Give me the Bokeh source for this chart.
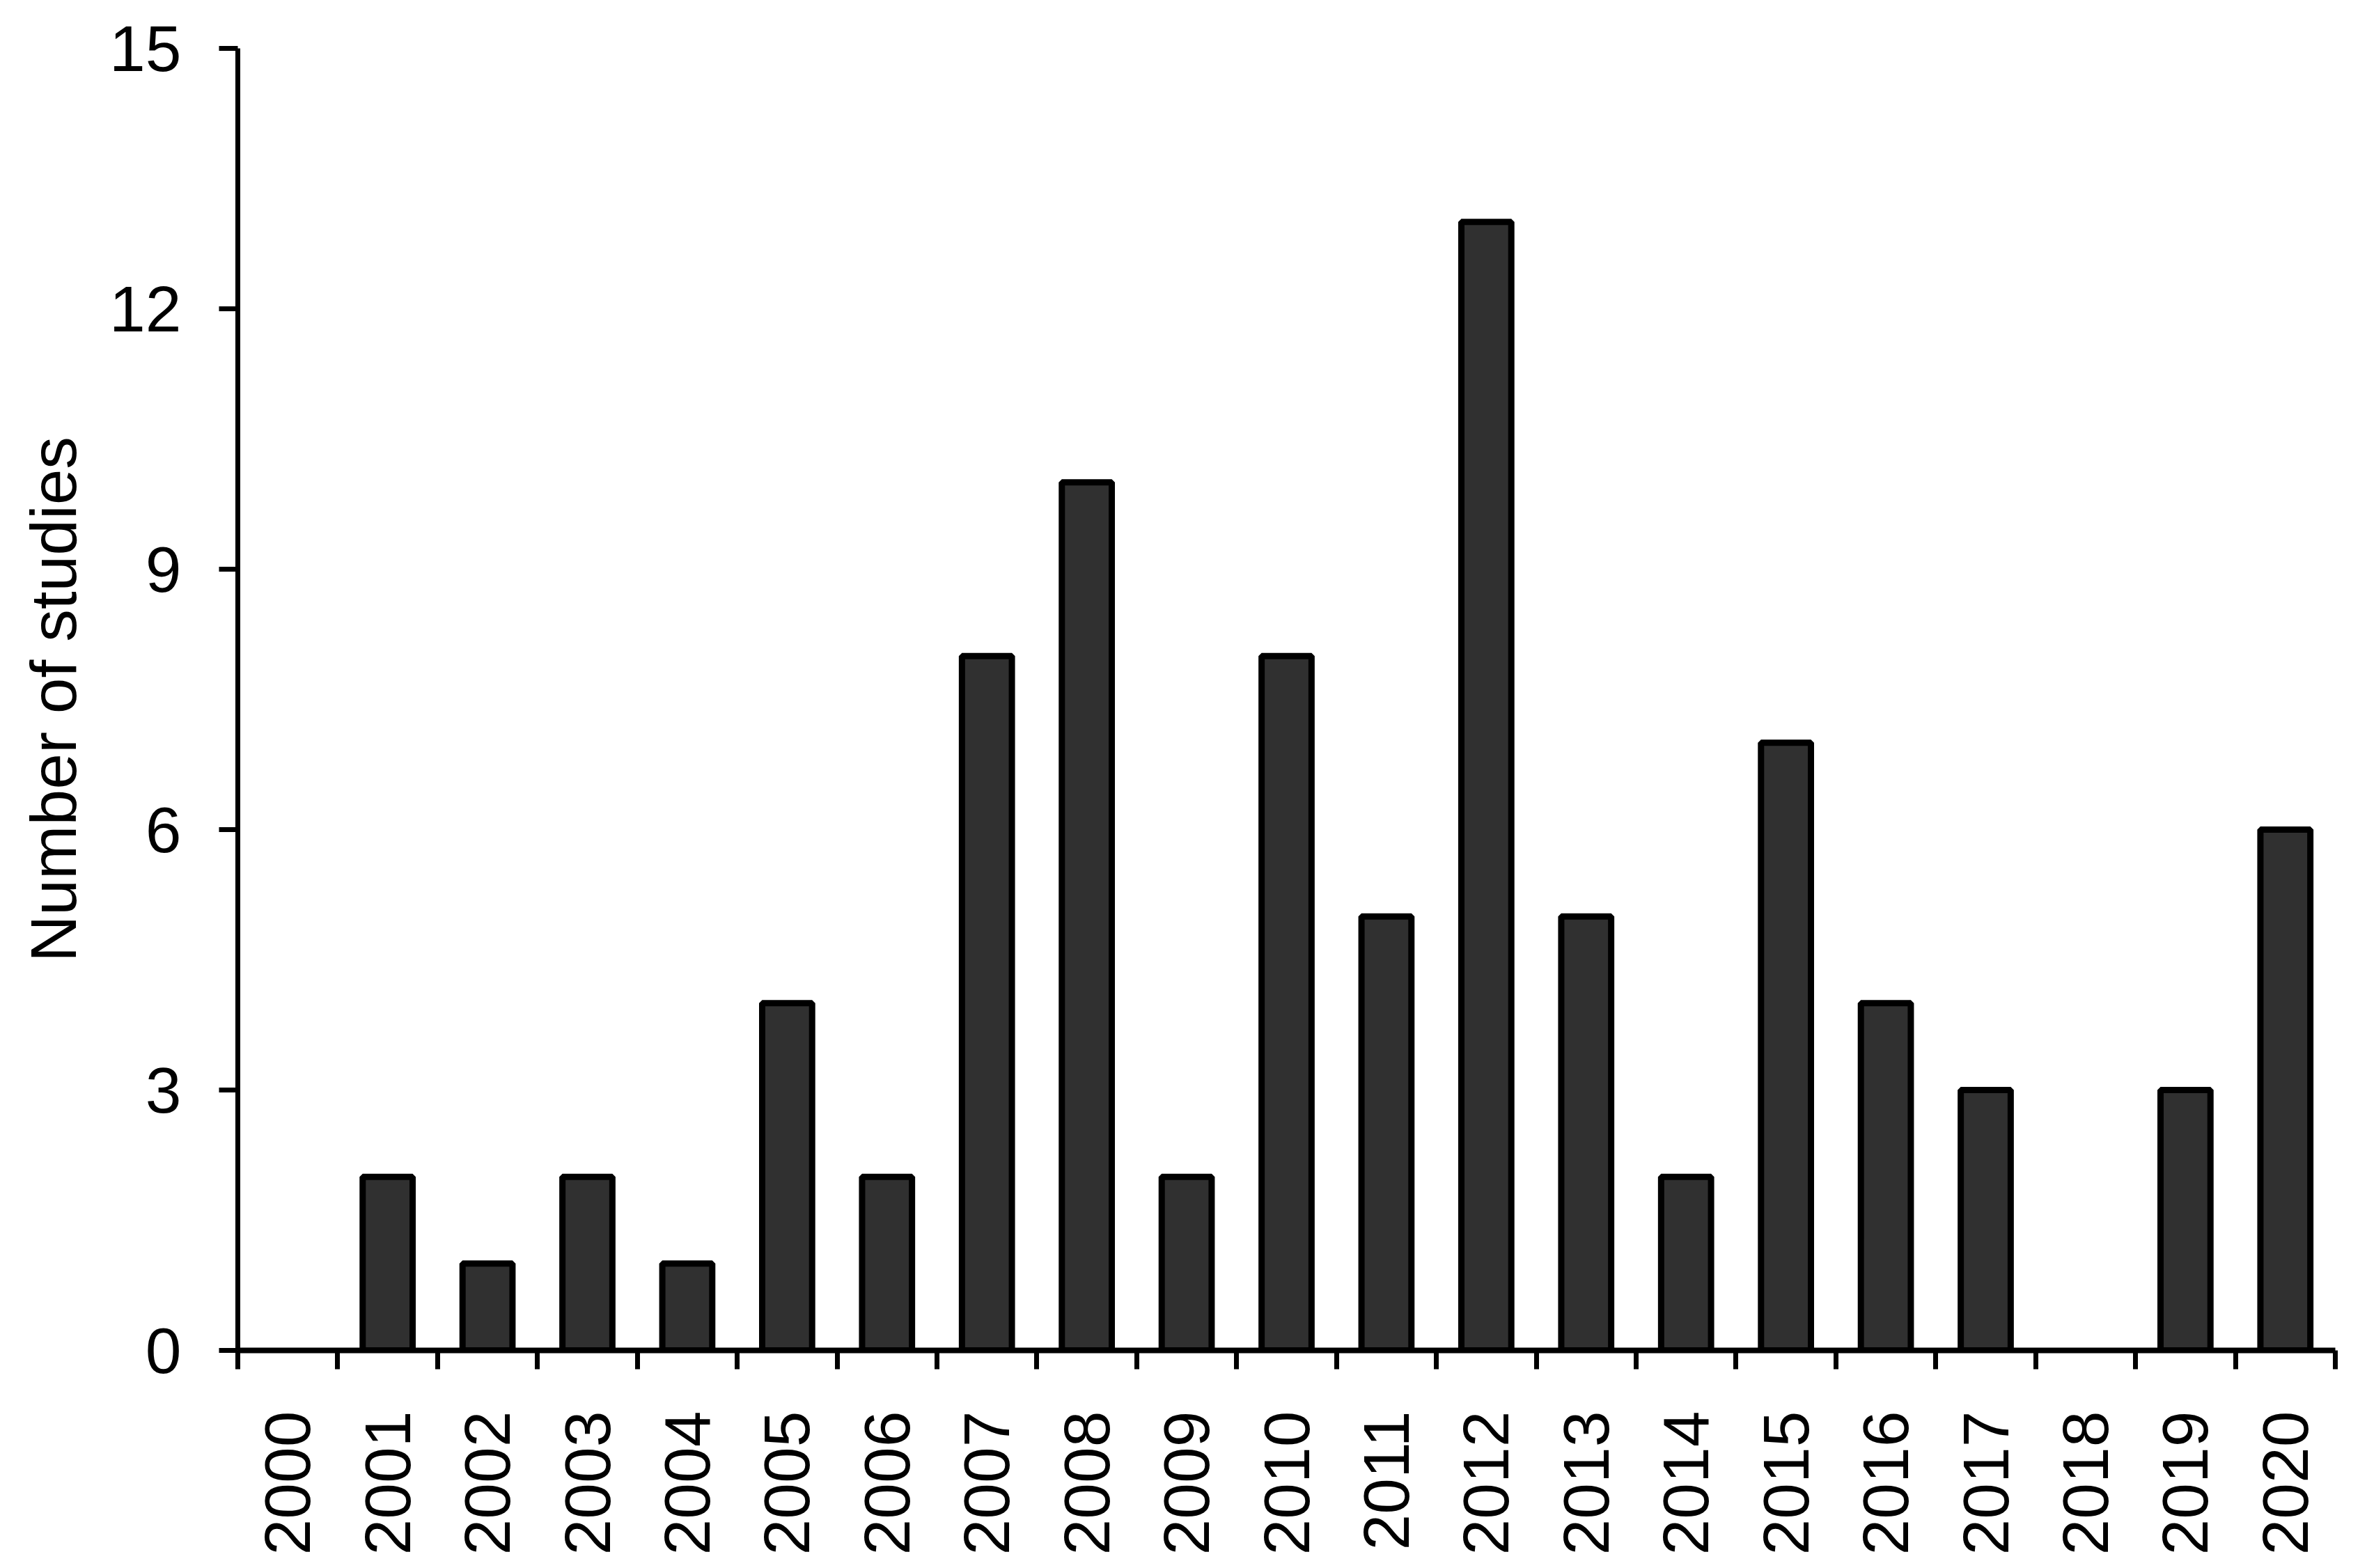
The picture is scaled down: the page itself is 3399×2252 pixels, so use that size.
import math
from bokeh.plotting import figure
from bokeh.models import (FixedTicker, Range1d, ColumnDataSource, CDSView,
                          BooleanFilter, CustomJSTickFormatter)
from bokeh.embed import file_html
from bokeh.resources import INLINE

# ---- data ----
years = [str(y) for y in range(2000, 2021)]
studies = [0, 2, 1, 2, 1, 4, 2, 8, 10, 2, 8, 5, 13, 5, 2, 7, 4, 3, 0, 3, 6]
y_ticks = [0, 3, 6, 9, 12, 15]
y_label = "Number of studies"

positions = [i + 0.5 for i in range(len(years))]
boundaries = list(range(len(years) + 1))

FONT = "Liberation Sans"
FSIZE = "93px"

p = figure(width=3383, height=2236, output_backend="svg", toolbar_location=None,
           x_range=Range1d(0, len(years)), y_range=Range1d(0, 15),
           min_border_left=341, min_border_right=30,
           min_border_top=69, min_border_bottom=287)
p.outline_line_color = None
p.grid.visible = False
p.background_fill_color = "white"
p.border_fill_color = "white"

src = ColumnDataSource(dict(x=positions, top=studies, year=years))
view = CDSView(filter=BooleanFilter([v > 0 for v in studies]))
p.vbar(x="x", top="top", bottom=0, width=0.5, source=src, view=view,
       fill_color="#303030", line_color="black", line_width=9)

# x axis: ticks at category boundaries (minor), labels at centres (major)
xa = p.xaxis[0]
xa.ticker = FixedTicker(ticks=positions, minor_ticks=boundaries)
xa.formatter = CustomJSTickFormatter(args=dict(labels=years),
                                     code="return labels[Math.floor(tick)];")
xa.major_tick_out = 0
xa.major_tick_in = 0
xa.minor_tick_out = 27
xa.minor_tick_in = 0
xa.minor_tick_line_width = 7
xa.minor_tick_line_color = "black"
xa.major_label_orientation = math.pi / 2
xa.major_label_standoff = 60
xa.axis_line_width = 8
xa.axis_line_color = "black"

ya = p.yaxis[0]
ya.ticker = FixedTicker(ticks=y_ticks, minor_ticks=[])
ya.major_tick_out = 27
ya.major_tick_in = 0
ya.major_tick_line_width = 7
ya.major_tick_line_color = "black"
ya.minor_tick_line_color = None
ya.major_label_standoff = 54
ya.axis_line_width = 7
ya.axis_line_color = "black"
ya.axis_label = y_label
ya.axis_label_standoff = 25

for ax in (xa, ya):
    ax.major_label_text_font = FONT
    ax.major_label_text_font_size = FSIZE
    ax.major_label_text_color = "black"
    ax.axis_label_text_font = FONT
    ax.axis_label_text_font_size = FSIZE
    ax.axis_label_text_font_style = "normal"
    ax.axis_label_text_color = "black"

open("out.html", "w").write(file_html(p, INLINE))
